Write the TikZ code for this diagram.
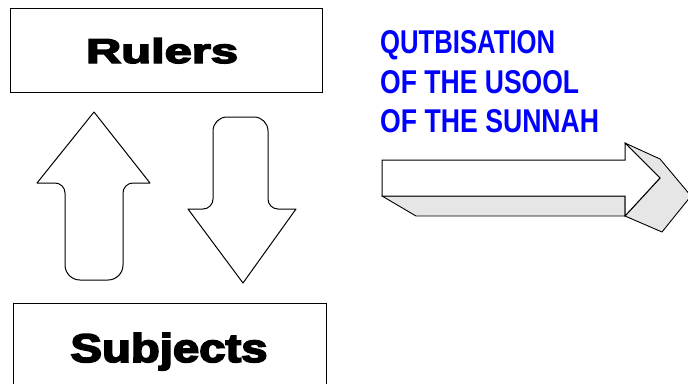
\documentclass[tikz,border=0pt]{standalone}
\usepackage{fontspec}
\usepackage{graphicx}
\newfontfamily\heavyfont[FakeBold=4]{Liberation Sans Bold}
\newfontfamily\bluefont{Liberation Sans Bold}
\definecolor{pureblue}{RGB}{0,0,255}
\definecolor{shade}{RGB}{230,230,230}
\tikzset{
  boxline/.style={draw=black,line width=1pt},
  arrowline/.style={draw=black,line width=1pt,line join=round},
  facegrey/.style={fill=shade,draw=black,line width=0.9pt,line join=round},
  facewhite/.style={fill=white,draw=black,line width=1pt,line join=miter},
  bluetext/.style={text=pureblue,anchor=base west,inner sep=0pt,font=\bluefont},
  bigtext/.style={anchor=base,inner sep=0pt,font=\heavyfont}
}
\begin{document}
\begin{tikzpicture}[x=1pt,y=-1pt]
\useasboundingbox (0,0) rectangle (688,383);
\clip (0,0) rectangle (688,383);
% Rulers box
\node[boxline,minimum width=312pt,minimum height=84pt,inner sep=0pt] (rulersbox) at (166,50) {};
\node[bigtext] (rulers) at (162,63) {\resizebox{152pt}{25pt}{Rulers}};
% Subjects box (runs off the bottom)
\coordinate (sbl) at (13,386);
\coordinate (str) at (326,303);
\draw[boxline] (sbl) |- (str) -- (326,386);
\node[bigtext] (subjects) at (169,362) {\resizebox{197pt}{29pt}{Subjects}};
% up arrow
\draw[arrowline] (94,112) -- (150,183) [rounded corners=10pt] -- (123,183) [rounded corners=15pt] -- (123,280) -- (65,280) [rounded corners=10pt] -- (65,183) [sharp corners] -- (37,183) -- cycle;
% down arrow
\draw[arrowline] (243,283) -- (188,209) [rounded corners=10pt] -- (213,209) [rounded corners=14pt] -- (213,117) -- (268,117) [rounded corners=10pt] -- (268,209) [sharp corners] -- (296,209) -- cycle;
% blue text
\node[bluetext] (l1) at (380,53) {\resizebox{175pt}{23pt}{QUTBISATION}};
\node[bluetext] (l2) at (380,93) {\resizebox{199pt}{23pt}{OF THE USOOL}};
\node[bluetext] (l3) at (380,132) {\resizebox{219pt}{23pt}{OF THE SUNNAH}};
% 3D arrow
\draw[facegrey] (382,196) -- (416,216) -- (625,216) -- (625,196) -- cycle;
\draw[facegrey] (625,143) -- (660,159) -- (691,196) -- (662,232) -- (625,216) -- (660,178) -- cycle;
\draw[facewhite] (382,160) -- (625,160) -- (625,143) -- (660,178) -- (625,216) -- (625,196) -- (382,196) -- cycle;
\end{tikzpicture}
\end{document}
